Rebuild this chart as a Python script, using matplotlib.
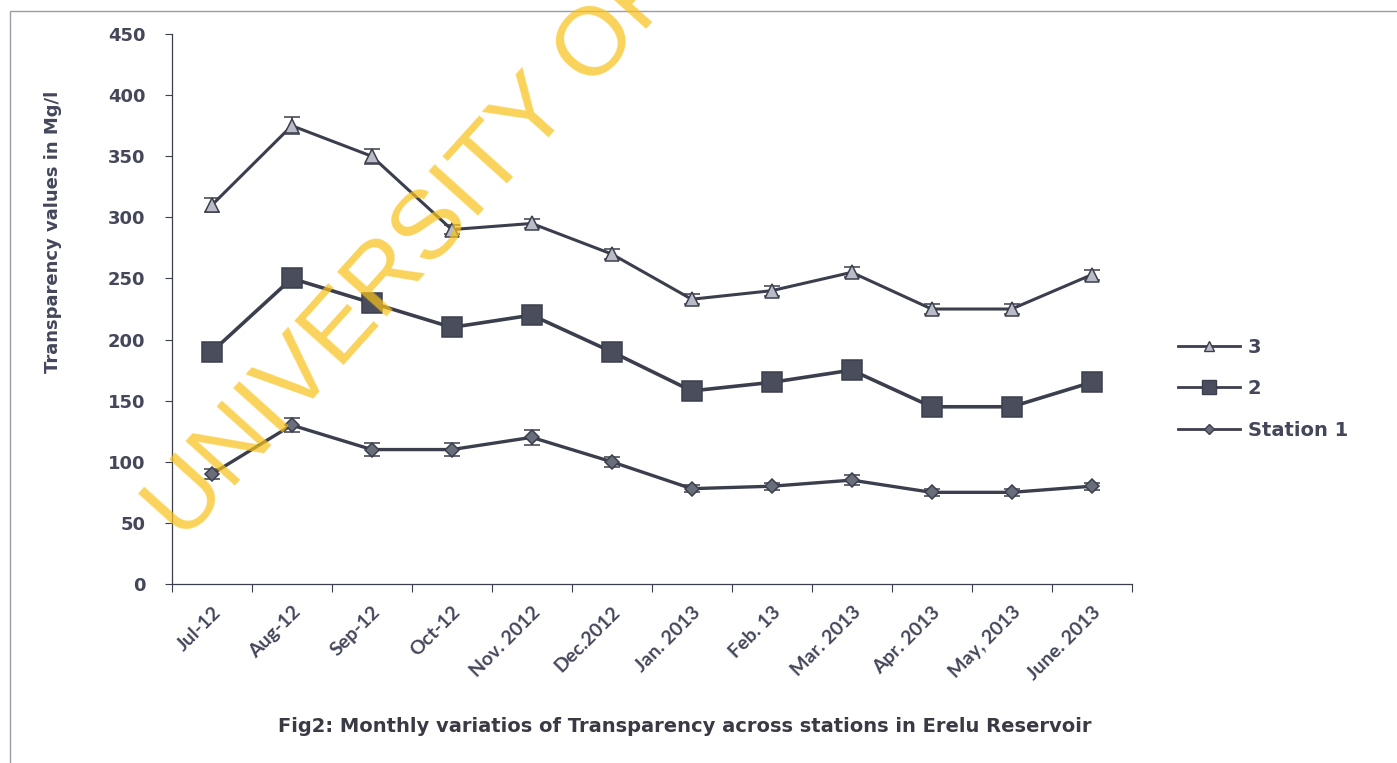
import matplotlib
matplotlib.use("Agg")
import matplotlib.pyplot as plt
import numpy as np
from matplotlib.patches import Rectangle
from matplotlib.lines import Line2D

months = ["Jul-12", "Aug-12", "Sep-12", "Oct-12", "Nov. 2012", "Dec.2012",
          "Jan. 2013", "Feb. 13", "Mar. 2013", "Apr. 2013", "May, 2013", "June. 2013"]

station1 = [90, 130, 110, 110, 120, 100, 78, 80, 85, 75, 75, 80]
station2 = [190, 250, 230, 210, 220, 190, 158, 165, 175, 145, 145, 165]
station3 = [310, 375, 350, 290, 295, 270, 233, 240, 255, 225, 225, 253]
err1 = [4, 6, 5, 5, 6, 4, 3, 3, 4, 3, 3, 3]
err2 = [3, 3, 3, 3, 3, 3, 3, 3, 3, 3, 3, 3]
err3 = [6, 7, 6, 4, 4, 4, 4, 4, 4, 4, 4, 4]

LINE = "#3b3e4c"
TEXT = "#44475a"

# marker styles per series
styles = {
    "3": dict(marker="^", ms=10, mfc="#b9bcc6", lw=2.2),
    "2": dict(marker="s", ms=14, mfc="#4a4d5c", lw=2.6),
    "Station 1": dict(marker="D", ms=7, mfc="#6a6d7a", lw=2.4),
}

fig = plt.figure(figsize=(13.97, 7.63), dpi=100)
ax = fig.add_axes([0.123, 0.2346, 0.687, 0.7208])

x = np.arange(len(months))

for name, vals, err in [("3", station3, err3), ("2", station2, err2),
                        ("Station 1", station1, err1)]:
    st = styles[name]
    ax.errorbar(x, vals, yerr=err, color=LINE, lw=st["lw"], marker=st["marker"],
                ms=st["ms"], mfc=st["mfc"], mec=LINE, mew=1.1, capsize=6,
                elinewidth=1.2, zorder=3)

ax.set_xlim(-0.5, len(months) - 0.5)
ax.set_ylim(0, 450)
ax.set_yticks(np.arange(0, 451, 50))
for lab in ax.get_yticklabels():
    lab.set_fontfamily("DejaVu Sans")
    lab.set_fontweight("bold")
    lab.set_fontsize(13)
ax.tick_params(axis="y", length=5, width=0.8, direction="out", pad=14,
               colors=LINE, labelcolor=TEXT)

ax.set_xticks(x)
ax.set_xticklabels(months, rotation=45, ha="right", rotation_mode="anchor",
                   fontsize=14, fontweight="bold", family=["Lato", "DejaVu Sans"],
                   color=TEXT)
ax.tick_params(axis="x", which="major", length=0, pad=14)
ax.set_xticks(np.arange(-0.5, len(months), 1), minor=True)
ax.tick_params(axis="x", which="minor", length=6, width=0.8, direction="out", colors=LINE)

for s in ["top", "right"]:
    ax.spines[s].set_visible(False)
for s in ["left", "bottom"]:
    ax.spines[s].set_color(LINE)
    ax.spines[s].set_linewidth(0.9)

ax.set_ylabel("Transparency values in Mg/l", fontsize=13, fontweight="bold",
              family=["Liberation Sans Narrow", "DejaVu Sans"], color=TEXT)
ax.yaxis.set_label_coords(-0.114, 0.64)

handles = [Line2D([], [], color=LINE, lw=2.0, marker=styles[n]["marker"],
                  ms=styles[n]["ms"] * 0.75, mfc=styles[n]["mfc"], mec=LINE)
           for n in ["3", "2", "Station 1"]]
leg = ax.legend(handles, ["3", "2", "Station 1"], loc="center left",
                bbox_to_anchor=(1.03, 0.355), frameon=False, handlelength=3.2,
                labelspacing=1.15, handletextpad=0.4,
                prop={"family": "DejaVu Sans", "weight": "bold", "size": 14})
for t in leg.get_texts():
    t.set_color(TEXT)

fig.text(0.49, 0.048, "Fig2: Monthly variatios of Transparency across stations in Erelu Reservoir",
         ha="center", va="center", fontsize=14, fontweight="bold", color="#3a3a45",
         family="DejaVu Sans")

# watermark
fig.text(0.296, 0.672, "UNIVERSITY OF", ha="center", va="center", rotation=48,
         fontsize=70, color="#f7c21a", alpha=0.72, family=["Liberation Sans", "DejaVu Sans"],
         zorder=10)

fig.patches.append(Rectangle((0.007, -0.01), 1.0, 0.995, transform=fig.transFigure,
                             fill=False, edgecolor="#9a9ca6", lw=1.0))

fig.savefig("out.png", dpi=100)
